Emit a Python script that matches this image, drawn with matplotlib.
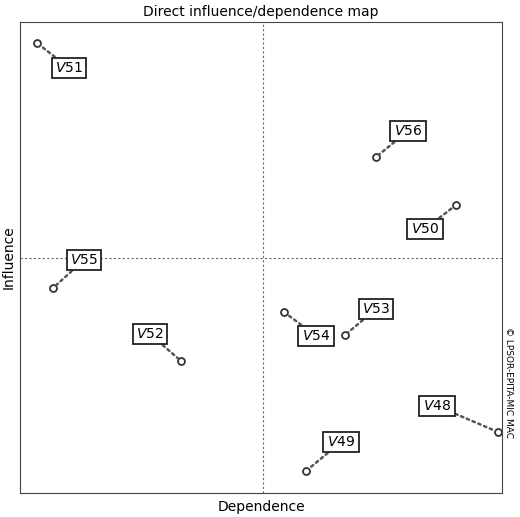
import matplotlib.pyplot as plt

names = ['V51', 'V56', 'V50', 'V55', 'V54', 'V53', 'V52', 'V48', 'V49']
dependence = [17, 356, 436, 33, 264, 325, 161, 478, 286]
influence = [450, 336, 288, 205, 181, 158, 132, 61, 22]
label_x = [49, 388, 405, 64, 296, 356, 130, 417, 321]
label_y = [425, 362, 264, 233, 157, 184, 159, 87, 51]

fig = plt.figure(figsize=(5.2, 5.17), dpi=100)
ax = fig.add_axes([20 / 520, 24 / 517, 482 / 520, 471 / 517])
ax.set_xlim(0, 482)
ax.set_ylim(0, 471)
ax.set_xticks([])
ax.set_yticks([])
for s in ax.spines.values():
    s.set_color('#444444')

ax.axvline(243, color='#666666', ls=(0, (2, 2)), lw=0.8)
ax.axhline(235, color='#666666', ls=(0, (2, 2)), lw=0.8)

for n, x, y, lx, ly in zip(names, dependence, influence, label_x, label_y):
    ax.annotate(r'$V$' + n[1:], xy=(x, y), xytext=(lx, ly), ha='center', va='center',
                fontsize=10,
                bbox=dict(boxstyle='square,pad=0.25', fc='white', ec='#222222', lw=1.3),
                arrowprops=dict(arrowstyle='-', ls=(0, (1, 1.5)), lw=1.8, color='#555555',
                                shrinkA=0, shrinkB=3))
    ax.plot(x, y, 'o', ms=5, mfc='white', mec='#333333', mew=1.3)

ax.set_title('Direct influence/dependence map', fontsize=10, pad=4)
ax.set_xlabel('Dependence', fontsize=10, labelpad=5)
ax.set_ylabel('Influence', fontsize=10, labelpad=3)
fig.text(508 / 520, 0.26, '© LPSOR-EPITA-MIC MAC', rotation=270, fontsize=6.5,
         ha='center', va='center')

fig.savefig('out.png')
